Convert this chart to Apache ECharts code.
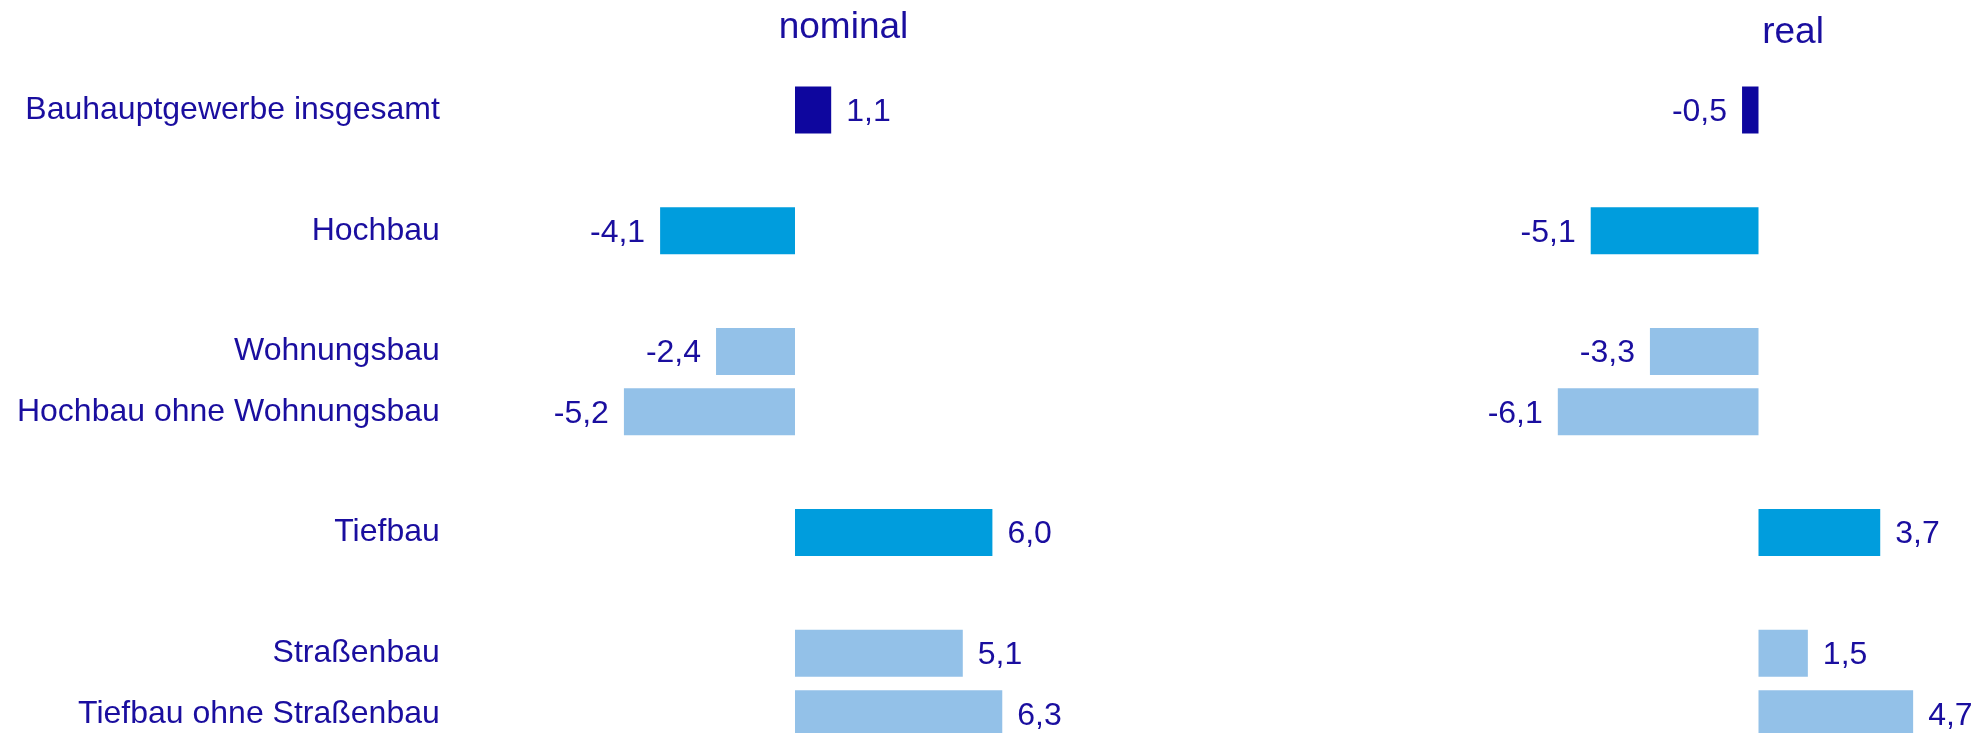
<!DOCTYPE html>
<html>
<head>
<meta charset="utf-8">
<script src="https://cdn.jsdelivr.net/npm/echarts@6/dist/echarts.min.js"></script>
<style>
  html, body { margin: 0; padding: 0; background: #ffffff; }
  #chart { width: 1977px; height: 733px; }
</style>
</head>
<body>
<div id="chart"></div>
<script>
// ---- data ----
const categories = [
  'Bauhauptgewerbe insgesamt', '',
  'Hochbau', '',
  'Wohnungsbau', 'Hochbau ohne Wohnungsbau', '',
  'Tiefbau', '',
  'Straßenbau', 'Tiefbau ohne Straßenbau'
];
const levels = ['total', null, 'main', null, 'sub', 'sub', null, 'main', null, 'sub', 'sub'];
const nominalValues = [1.1, null, -4.1, null, -2.4, -5.2, null, 6.0, null, 5.1, 6.3];
const realValues = [-0.5, null, -5.1, null, -3.3, -6.1, null, 3.7, null, 1.5, 4.7];
const panelTitles = ['nominal', 'real'];

// ---- styles ----
const levelColors = { total: '#0e069e', main: '#009ddd', sub: '#93c1e8' };
const textColor = '#1a0e9f';
const fontFamily = '"Liberation Sans", Arial, sans-serif';

function fmt(v) { return v.toFixed(1).replace('.', ','); }

function buildData(values) {
  return values.map((v, i) => {
    if (v === null) return null;
    return {
      value: v,
      itemStyle: { color: levelColors[levels[i]] },
      label: { position: v >= 0 ? 'right' : 'left' }
    };
  });
}

const chart = echarts.init(document.getElementById('chart'), null, { renderer: 'canvas' });

// first row centre at 110, last row centre at 713.7 (category ticks on edges)
const gridTop = 110, gridHeight = 603.7, pxPerUnit = 32.9;
const nomMin = -8, nomMax = 8, nomZero = 795;
const realMin = -8, realMax = 6, realZero = 1758.5;

const labelCommon = {
  show: true,
  distance: 15,
  offset: [0, 2],
  color: textColor,
  fontSize: 32,
  fontFamily: fontFamily,
  formatter: p => fmt(p.value)
};

const catAxisBase = {
  type: 'category', data: categories, inverse: true, boundaryGap: false,
  axisLine: { show: false }, axisTick: { show: false }, splitLine: { show: false }
};

const option = {
  animation: false,
  backgroundColor: '#ffffff',
  grid: [
    { left: nomZero + nomMin * pxPerUnit, top: gridTop, width: (nomMax - nomMin) * pxPerUnit, height: gridHeight, containLabel: false },
    { left: realZero + realMin * pxPerUnit, top: gridTop, width: (realMax - realMin) * pxPerUnit, height: gridHeight, containLabel: false }
  ],
  xAxis: [
    { gridIndex: 0, type: 'value', min: nomMin, max: nomMax, show: false, splitLine: { show: false } },
    { gridIndex: 1, type: 'value', min: realMin, max: realMax, show: false, splitLine: { show: false } }
  ],
  yAxis: [
    Object.assign({ gridIndex: 0 }, catAxisBase, {
      axisLabel: { show: true, margin: 92, padding: [3, 0, 0, 0], color: textColor, fontSize: 32, fontFamily: fontFamily, interval: 0 }
    }),
    Object.assign({ gridIndex: 1 }, catAxisBase, {
      axisLabel: { show: false }
    })
  ],
  graphic: [
    { type: 'text', x: 843.5, y: 28, style: { text: panelTitles[0], align: 'center', verticalAlign: 'middle', fill: textColor, fontSize: 37, fontFamily: fontFamily } },
    { type: 'text', x: 1793, y: 33, style: { text: panelTitles[1], align: 'center', verticalAlign: 'middle', fill: textColor, fontSize: 37, fontFamily: fontFamily } }
  ],
  series: [
    {
      type: 'bar', xAxisIndex: 0, yAxisIndex: 0, barWidth: 47, clip: false,
      data: buildData(nominalValues), label: labelCommon
    },
    {
      type: 'bar', xAxisIndex: 1, yAxisIndex: 1, barWidth: 47, clip: false,
      data: buildData(realValues), label: labelCommon
    }
  ]
};

chart.setOption(option);
</script>
</body>
</html>
